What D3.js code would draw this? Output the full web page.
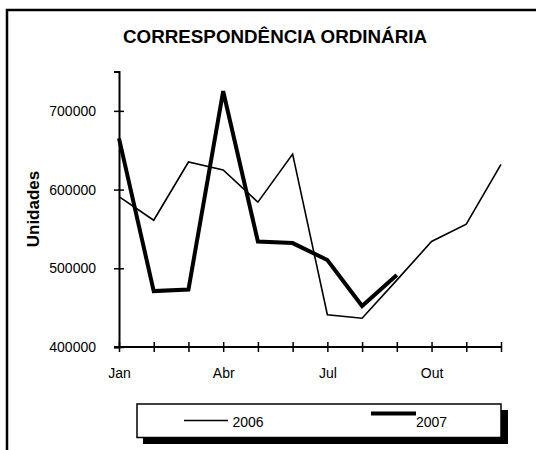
<!DOCTYPE html>
<html>
<head>
<meta charset="utf-8">
<script src="https://cdn.jsdelivr.net/npm/d3@7"></script>
<style>
  body { margin: 0; background: #fff; }
  svg text { font-family: "Liberation Sans", Arial, sans-serif; fill: #000; }
</style>
</head>
<body>
<div id="chart"></div>
<script>
// data
const months = ["Jan", "Fev", "Mar", "Abr", "Mai", "Jun", "Jul", "Ago", "Set", "Out", "Nov", "Dez"];
const tickMonths = ["Jan", "Abr", "Jul", "Out"];
const values2006 = [591000, 561000, 635000, 625000, 584000, 645000, 441000, 436500, 485000, 534000, 556000, 632000];
const values2007 = [665000, 471000, 473000, 725000, 534000, 532000, 510500, 452000, 491500];
const yTicks = [400000, 500000, 600000, 700000];

const width = 536, height = 450;

const svg = d3.select("#chart").append("svg")
    .attr("width", width)
    .attr("height", height);

// outer frame (runs off the right/bottom edges)
svg.append("rect")
    .attr("x", 7).attr("y", 10)
    .attr("width", 600).attr("height", 500)
    .attr("fill", "none")
    .attr("stroke", "#000")
    .attr("stroke-width", 2.5);

svg.append("text")
    .attr("x", 275).attr("y", 42.5)
    .attr("text-anchor", "middle")
    .attr("font-size", "18.8px")
    .attr("font-weight", "bold")
    .text("CORRESPONDÊNCIA ORDINÁRIA");

// scales
let x = d3.scaleLinear().domain([0, 11]).range([119, 501]);
let y = d3.scaleLinear().domain([400000, 750000]).range([347, 71.5]);

// y axis
let yAxis = svg.append("g")
    .attr("transform", "translate(119,0)")
    .call(d3.axisLeft(y).tickValues(yTicks).tickSizeOuter(0).tickSize(5).tickPadding(18)
        .tickFormat(d3.format("d")));
yAxis.select(".domain").attr("stroke-width", 2);
yAxis.selectAll(".tick line").attr("x1", -5).attr("x2", 5).attr("stroke-width", 1.5);
yAxis.selectAll(".tick text").attr("font-size", "14px").attr("font-family", "Liberation Sans, Arial, sans-serif");

// x axis
let xAxis = svg.append("g")
    .attr("transform", "translate(0,347)")
    .call(d3.axisBottom(x).tickValues(d3.range(12)).tickSizeOuter(0).tickSize(5).tickPadding(16)
        .tickFormat(i => tickMonths.includes(months[i]) ? months[i] : ""));
xAxis.select(".domain").attr("stroke-width", 2).attr("d", `M${x(0) - 5},0H${x(11)}`);
xAxis.selectAll(".tick line").attr("y1", -5).attr("y2", 5).attr("stroke-width", 1.5);
xAxis.selectAll(".tick text").attr("font-size", "14px").attr("font-family", "Liberation Sans, Arial, sans-serif");

// y label
svg.append("text")
    .attr("transform", "translate(39,209) rotate(-90)")
    .attr("text-anchor", "middle")
    .attr("font-size", "17px")
    .attr("font-weight", "bold")
    .text("Unidades");

// lines
let line = d3.line()
    .x((d, i) => x(i))
    .y(d => y(d));

svg.append("path")
    .datum(values2006)
    .attr("d", line)
    .attr("fill", "none")
    .attr("stroke", "#000")
    .attr("stroke-width", 1.6);

svg.append("path")
    .datum(values2007)
    .attr("d", line)
    .attr("fill", "none")
    .attr("stroke", "#000")
    .attr("stroke-width", 4);

// legend
let legend = svg.append("g");
legend.append("rect")
    .attr("x", 143).attr("y", 410)
    .attr("width", 365).attr("height", 34)
    .attr("fill", "#000");
legend.append("rect")
    .attr("x", 137).attr("y", 404)
    .attr("width", 364).attr("height", 33.5)
    .attr("fill", "#fff")
    .attr("stroke", "#000")
    .attr("stroke-width", 1.5);

legend.append("line")
    .attr("x1", 184).attr("x2", 228)
    .attr("y1", 420.5).attr("y2", 420.5)
    .attr("stroke", "#000").attr("stroke-width", 1.6);
legend.append("text")
    .attr("x", 232.5).attr("y", 426.5)
    .attr("font-size", "14px")
    .text("2006");

legend.append("line")
    .attr("x1", 371).attr("x2", 416)
    .attr("y1", 413.5).attr("y2", 413.5)
    .attr("stroke", "#000").attr("stroke-width", 4);
legend.append("text")
    .attr("x", 416).attr("y", 426.5)
    .attr("font-size", "14px")
    .text("2007");
</script>
</body>
</html>
